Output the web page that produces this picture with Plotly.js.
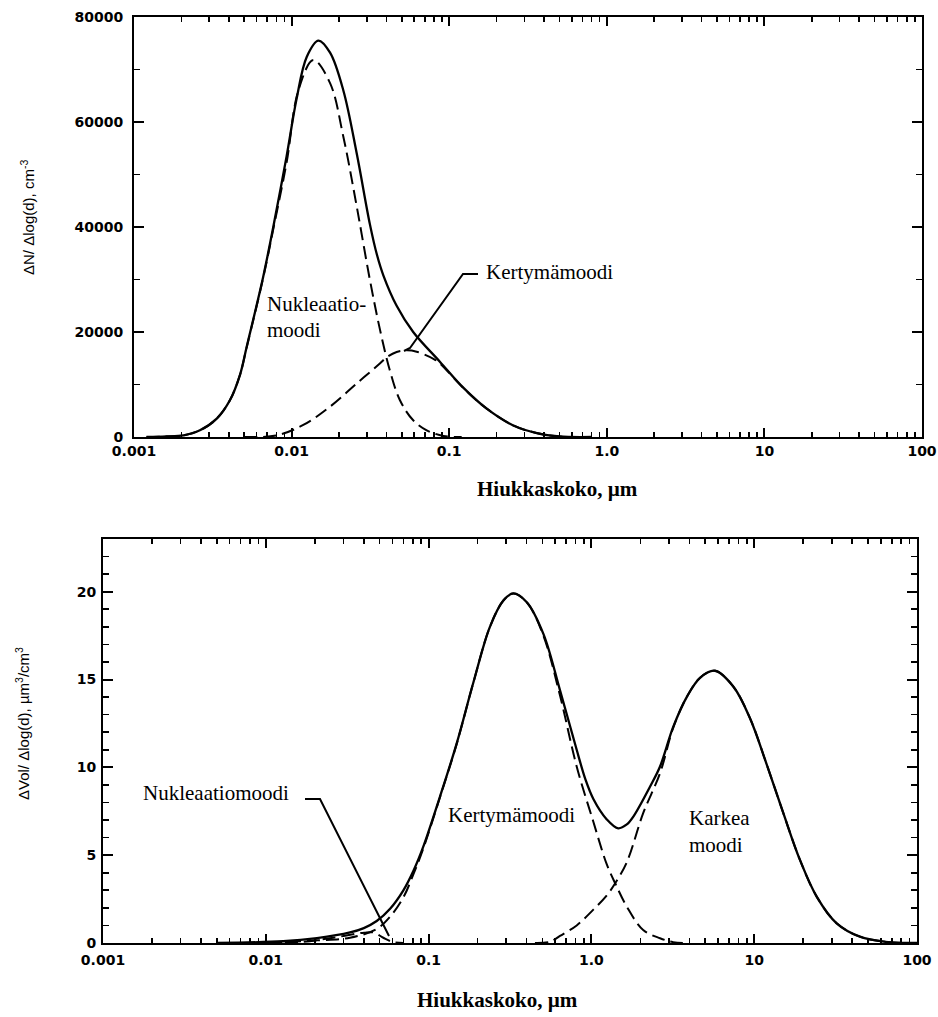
<!DOCTYPE html>
<html>
<head>
<meta charset="utf-8">
<script src="https://cdn.plot.ly/plotly-3.0.1.min.js"></script>
<style>html,body{margin:0;padding:0;background:#fff;}#chart{width:938px;height:1017px;}</style>
</head>
<body>
<div id="chart"></div>
<script>
// ---------- Data ----------
// Top panel: number distribution dN/dlog(d), cm^-3
const totalN_d = [0.0012, 0.0016, 0.00206, 0.00262, 0.00335, 0.00406, 0.0047, 0.00519, 0.0066, 0.00765, 0.0093, 0.01077, 0.01247, 0.0148, 0.01754, 0.0213, 0.0259, 0.0314, 0.0348, 0.0382, 0.0464, 0.0591, 0.0875, 0.1228, 0.173, 0.255, 0.359, 0.5, 0.8];
const totalN   = [0, 100, 320, 1270, 3500, 7000, 11800, 17200, 30500, 40000, 53500, 64500, 72400, 75500, 73200, 66000, 54000, 40500, 34700, 30800, 25000, 20000, 14300, 9400, 5400, 2200, 760, 100, 0];

const nucN_d = [0.0012, 0.0016, 0.00206, 0.00262, 0.00335, 0.00406, 0.0047, 0.00519, 0.0066, 0.00765, 0.0093, 0.01104, 0.01374, 0.01754, 0.0213, 0.0259, 0.0314, 0.0364, 0.042, 0.0487, 0.0591, 0.072, 0.092, 0.12];
const nucN   = [0, 100, 320, 1270, 3500, 7000, 11800, 17100, 30300, 39600, 52300, 66000, 71800, 67400, 57200, 43900, 29900, 20400, 12700, 7000, 3180, 1270, 200, 0];

const accN_d = [0.005, 0.008, 0.01186, 0.01754, 0.0259, 0.0363, 0.0401, 0.0464, 0.0537, 0.0622, 0.0794, 0.0875, 0.1228, 0.173, 0.255, 0.359, 0.5, 0.8];
const accN   = [0, 300, 2290, 5780, 10200, 14000, 15200, 16200, 16500, 16240, 14900, 14000, 9350, 5400, 2200, 760, 100, 0];

// Bottom panel: volume distribution dV/dlog(d), um^3/cm^3
const totalV_d = [0.005, 0.0128, 0.0206, 0.0329, 0.04, 0.048, 0.058, 0.070, 0.0806, 0.0929, 0.1175, 0.149, 0.188, 0.238, 0.288, 0.331, 0.401, 0.507, 0.641, 0.812, 0.92, 1.028, 1.24, 1.46, 1.65, 1.81, 2.29, 2.64, 3.18, 3.85, 4.65, 5.74, 7.44, 9.42, 11.9, 15.1, 19.1, 24.2, 32.1, 44.6, 64, 100];
const totalV   = [0, 0.1, 0.28, 0.6, 0.85, 1.25, 1.95, 3.0, 4.1, 5.5, 8.34, 11.38, 14.8, 18.0, 19.5, 19.9, 19.4, 17.6, 14.4, 11.0, 9.3, 8.2, 7.05, 6.53, 6.75, 7.2, 8.9, 10.05, 12.3, 14.0, 15.1, 15.5, 14.6, 12.8, 10.2, 7.39, 4.73, 2.64, 1.12, 0.36, 0.07, 0];

const nucV_d = [0.01, 0.0162, 0.0259, 0.0402, 0.0459, 0.0527, 0.0607, 0.07];
const nucV   = [0, 0.05, 0.3, 0.59, 0.6, 0.3, 0.05, 0];

const accV_d = [0.008, 0.0128, 0.0206, 0.0329, 0.048, 0.058, 0.070, 0.0806, 0.0929, 0.1175, 0.149, 0.188, 0.238, 0.288, 0.331, 0.401, 0.507, 0.641, 0.812, 1.028, 1.24, 1.40, 1.65, 2.08, 2.64, 3.18, 4.0];
const accV   = [0, 0.05, 0.15, 0.3, 0.8, 1.5, 2.6, 3.9, 5.4, 8.3, 11.35, 14.8, 18.0, 19.5, 19.9, 19.4, 17.5, 14.1, 10.05, 6.9, 4.5, 3.4, 2.07, 0.74, 0.27, 0.05, 0];

const karV_d = [0.45, 0.557, 0.641, 0.812, 1.028, 1.24, 1.40, 1.65, 2.08, 2.64, 3.18, 3.85, 4.65, 5.74, 7.44, 9.42, 11.9, 15.1, 19.1, 24.2, 32.1, 44.6, 64, 100];
const karV   = [0, 0.07, 0.4, 1.0, 1.9, 2.7, 3.4, 4.6, 7.39, 9.67, 12.25, 14.0, 15.1, 15.5, 14.6, 12.8, 10.2, 7.39, 4.73, 2.64, 1.12, 0.36, 0.07, 0];

// Tick labels
const xTickVals = [0.001, 0.01, 0.1, 1, 10, 100];
const xTickText = ['0.001', '0.01', '0.1', '1.0', '10', '100'];
const yTopTicks = [0, 20000, 40000, 60000, 80000];
const yBotTicks = [0, 5, 10, 15, 20];

// ---------- Build ----------
const W = 938, H = 1017;
const px = v => v / W;
const py = v => 1 - v / H;

const minorX = [];
[0.001, 0.01, 0.1, 1, 10].forEach(b => { for (let k = 2; k <= 9; k++) minorX.push(+(b * k).toPrecision(3)); });

const solid = {color: '#000', width: 2.3, shape: 'spline', smoothing: 1};
const dashed = {color: '#000', width: 2, dash: '13px,6px', shape: 'spline', smoothing: 1};

const traces = [
  {x: totalN_d, y: totalN, xaxis: 'x', yaxis: 'y', mode: 'lines', line: solid, name: 'Yhteensä'},
  {x: nucN_d, y: nucN, xaxis: 'x', yaxis: 'y', mode: 'lines', line: dashed, name: 'Nukleaatiomoodi'},
  {x: accN_d, y: accN, xaxis: 'x', yaxis: 'y', mode: 'lines', line: dashed, name: 'Kertymämoodi'},
  {x: totalV_d, y: totalV, xaxis: 'x2', yaxis: 'y2', mode: 'lines', line: solid, name: 'Yhteensä'},
  {x: nucV_d, y: nucV, xaxis: 'x2', yaxis: 'y2', mode: 'lines', line: dashed, name: 'Nukleaatiomoodi'},
  {x: accV_d, y: accV, xaxis: 'x2', yaxis: 'y2', mode: 'lines', line: dashed, name: 'Kertymämoodi'},
  {x: karV_d, y: karV, xaxis: 'x2', yaxis: 'y2', mode: 'lines', line: dashed, name: 'Karkea moodi'}
];

const tickFont = {family: 'DejaVu Sans', size: 14, color: '#000', weight: 'bold'};
const serif = {family: 'Liberation Serif, Times New Roman, serif', size: 21, color: '#000'};
const serifBold = {family: 'Liberation Serif, Times New Roman, serif', size: 21, color: '#000', weight: 'bold'};
const ytFont = {family: 'Liberation Sans, Arial, sans-serif', size: 15, color: '#000'};

function xAxis(domain, anchor, standoff) {
  return {
    type: 'log', range: [-3, 2], domain: domain, anchor: anchor,
    tickmode: 'array', tickvals: xTickVals, ticktext: xTickText,
    ticks: 'inside', ticklen: 9, tickwidth: 2, tickcolor: '#000',
    ticklabelstandoff: standoff,
    minor: {tickmode: 'array', tickvals: minorX, ticks: 'inside', ticklen: 5, tickwidth: 1.6, tickcolor: '#000', showgrid: false},
    showline: true, linewidth: 2, linecolor: '#000', mirror: 'ticks',
    showgrid: false, zeroline: false, tickfont: tickFont, fixedrange: true
  };
}
function yAxis(domain, anchor, range, ticks, minorStep, standoff) {
  return {
    range: range, domain: domain, anchor: anchor,
    tickmode: 'array', tickvals: ticks, ticktext: ticks.map(String),
    ticks: 'inside', ticklen: 10, tickwidth: 2, tickcolor: '#000',
    ticklabelstandoff: standoff,
    minor: {dtick: minorStep, tick0: 0, ticks: 'inside', ticklen: 6, tickwidth: 1.6, tickcolor: '#000', showgrid: false},
    showline: true, linewidth: 2, linecolor: '#000', mirror: 'ticks',
    showgrid: false, zeroline: false, tickfont: tickFont, fixedrange: true
  };
}

const layout = {
  width: W, height: H,
  margin: {l: 0, r: 0, t: 0, b: 0},
  paper_bgcolor: '#fff', plot_bgcolor: '#fff',
  showlegend: false,
  xaxis: xAxis([px(134), px(922)], 'y', 0),
  yaxis: yAxis([py(437), py(17)], 'x', [0, 80000], yTopTicks, 10000, 6),
  xaxis2: xAxis([px(103), px(917)], 'y2', 3),
  yaxis2: yAxis([py(943), py(539)], 'x2', [0, 23], yBotTicks, 1, 2),
  annotations: [
    {xref: 'paper', yref: 'paper', x: px(265), y: py(304), xanchor: 'left', yanchor: 'middle', text: 'Nukleaatio-', showarrow: false, font: serif},
    {xref: 'paper', yref: 'paper', x: px(265), y: py(330), xanchor: 'left', yanchor: 'middle', text: 'moodi', showarrow: false, font: serif},
    {xref: 'paper', yref: 'paper', x: px(484), y: py(272), xanchor: 'left', yanchor: 'middle', text: 'Kertymämoodi', showarrow: false, font: serif},
    {xref: 'paper', yref: 'paper', x: px(557), y: py(489), xanchor: 'center', yanchor: 'middle', text: 'Hiukkaskoko, µm', showarrow: false, font: serifBold},
    {xref: 'paper', yref: 'paper', x: px(27), y: py(218), xanchor: 'center', yanchor: 'middle', textangle: -90, text: 'ΔN/ Δlog(d), cm<sup>-3</sup>', showarrow: false, font: ytFont},
    {xref: 'paper', yref: 'paper', x: px(141), y: py(793), xanchor: 'left', yanchor: 'middle', text: 'Nukleaatiomoodi', showarrow: false, font: serif},
    {xref: 'paper', yref: 'paper', x: px(446), y: py(815), xanchor: 'left', yanchor: 'middle', text: 'Kertymämoodi', showarrow: false, font: serif},
    {xref: 'paper', yref: 'paper', x: px(687), y: py(818), xanchor: 'left', yanchor: 'middle', text: 'Karkea', showarrow: false, font: serif},
    {xref: 'paper', yref: 'paper', x: px(687), y: py(845), xanchor: 'left', yanchor: 'middle', text: 'moodi', showarrow: false, font: serif},
    {xref: 'paper', yref: 'paper', x: px(498), y: py(1000), xanchor: 'center', yanchor: 'middle', text: 'Hiukkaskoko, µm', showarrow: false, font: serifBold},
    {xref: 'paper', yref: 'paper', x: px(22), y: py(724), xanchor: 'center', yanchor: 'middle', textangle: -90, text: 'ΔVol/ Δlog(d), µm<sup>3</sup>/cm<sup>3</sup>', showarrow: false, font: ytFont}
  ],
  shapes: [
    {type: 'path', xref: 'paper', yref: 'paper', line: {color: '#000', width: 2},
     path: `M ${px(478)},${py(274)} L ${px(463)},${py(274)} L ${px(410)},${py(348)} L ${px(404)},${py(351)}`},
    {type: 'path', xref: 'paper', yref: 'paper', line: {color: '#000', width: 2},
     path: `M ${px(305)},${py(799)} L ${px(320)},${py(799)} L ${px(389)},${py(936)}`}
  ]
};

Plotly.newPlot('chart', traces, layout, {displayModeBar: false, staticPlot: true});
</script>
</body>
</html>
